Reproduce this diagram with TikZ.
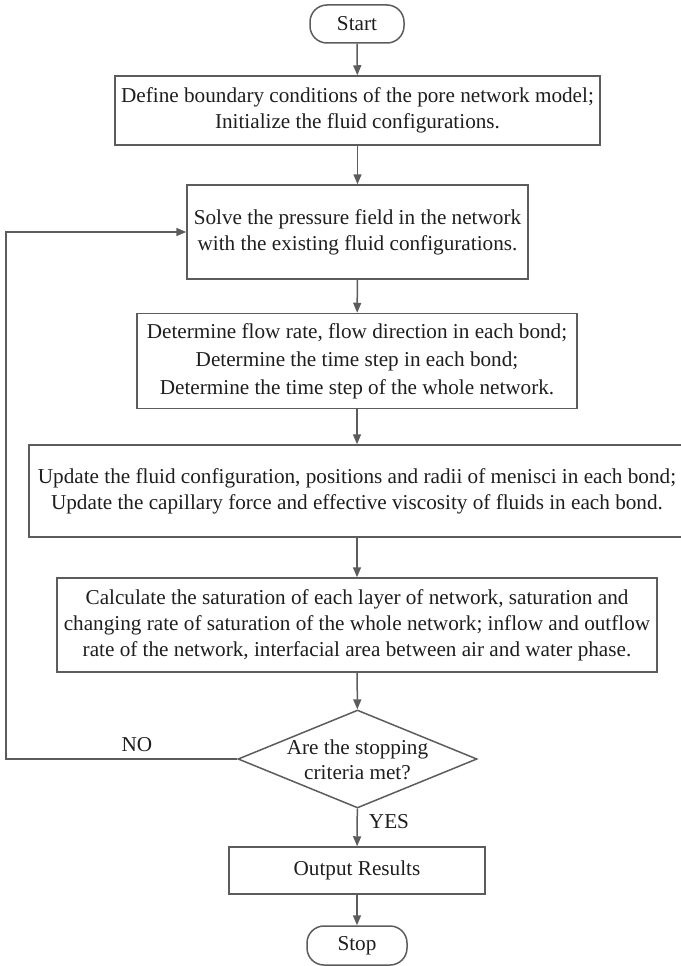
\documentclass[tikz,border=0pt]{standalone}
\usepackage{fontspec}
\setmainfont{Liberation Serif}
\usetikzlibrary{shapes.geometric,arrows.meta}
\definecolor{linec}{HTML}{5C5C5C}
\definecolor{txtc}{HTML}{1E1E1E}
\begin{document}
\begin{tikzpicture}[x=1pt,y=-1pt,
  box/.style={draw=linec, line width=1.5pt, rectangle, inner sep=0pt, align=center, text=txtc,
    font=\fontsize{21.2}{26}\selectfont},
  term/.style={box, rounded corners=17pt},
  dec/.style={draw=linec, line width=1.5pt, diamond, inner sep=0pt, minimum width=239pt, minimum height=98pt},
  lbl/.style={text=txtc, inner sep=0pt, align=center, font=\fontsize{21.2}{25}\selectfont},
  arr/.style={draw=linec, line width=1.5pt, -{Triangle[length=10pt,width=8pt]}}]
\useasboundingbox (0,0) rectangle (680,966);

\node[term, minimum width=94pt, minimum height=38pt] (start) at (357,24) {Start};
\node[box, minimum width=485pt, minimum height=69pt] (b1) at (357.5,110.5)
  {Define boundary conditions of the pore network model;\\Initialize the fluid configurations.};
\node[box, minimum width=341pt, minimum height=94pt] (b2) at (357.5,232)
  {Solve the pressure field in the network\\with the existing fluid configurations.};
\node[box, minimum width=440pt, minimum height=95pt, font=\fontsize{21.2}{28}\selectfont] (b3) at (357,361)
  {Determine flow rate, flow direction in each bond;\\Determine the time step in each bond;\\Determine the time step of the whole network.};
\node[box, minimum width=656pt, minimum height=92pt] (b4) at (357,491)
  {Update the fluid configuration, positions and radii of menisci in each bond;\\Update the capillary force and effective viscosity of fluids in each bond.};
\node[box, minimum width=600pt, minimum height=94pt] (b5) at (357,625)
  {Calculate the saturation of each layer of network, saturation and\\changing rate of saturation of the whole network; inflow and outflow\\rate of the network, interfacial area between air and water phase.};
\node[dec] (d) at (357.5,759) {};
\node[lbl] (dt) at (357.5,760) {Are the stopping\\criteria met?};
\node[box, minimum width=256pt, minimum height=47pt] (out) at (357,870.5) {Output Results};
\node[term, minimum width=100pt, minimum height=39pt] (stop) at (357,945.5) {Stop};

\coordinate (lc) at (6,759);
\node[lbl] (no) at (137,745) {NO};
\node[lbl] (yes) at (389,822) {YES};

\draw[arr] (start) -- (b1);
\draw[arr] (b1) -- (b2);
\draw[arr] (b2) -- (b3);
\draw[arr] (b3) -- (b4);
\draw[arr] (b4) -- (b5);
\draw[arr] (b5) -- (d);
\draw[arr] (d) -- (out);
\draw[arr] (out) -- (stop);
\draw[arr] (d.west) -- (lc) |- (b2.west);
\end{tikzpicture}
\end{document}
